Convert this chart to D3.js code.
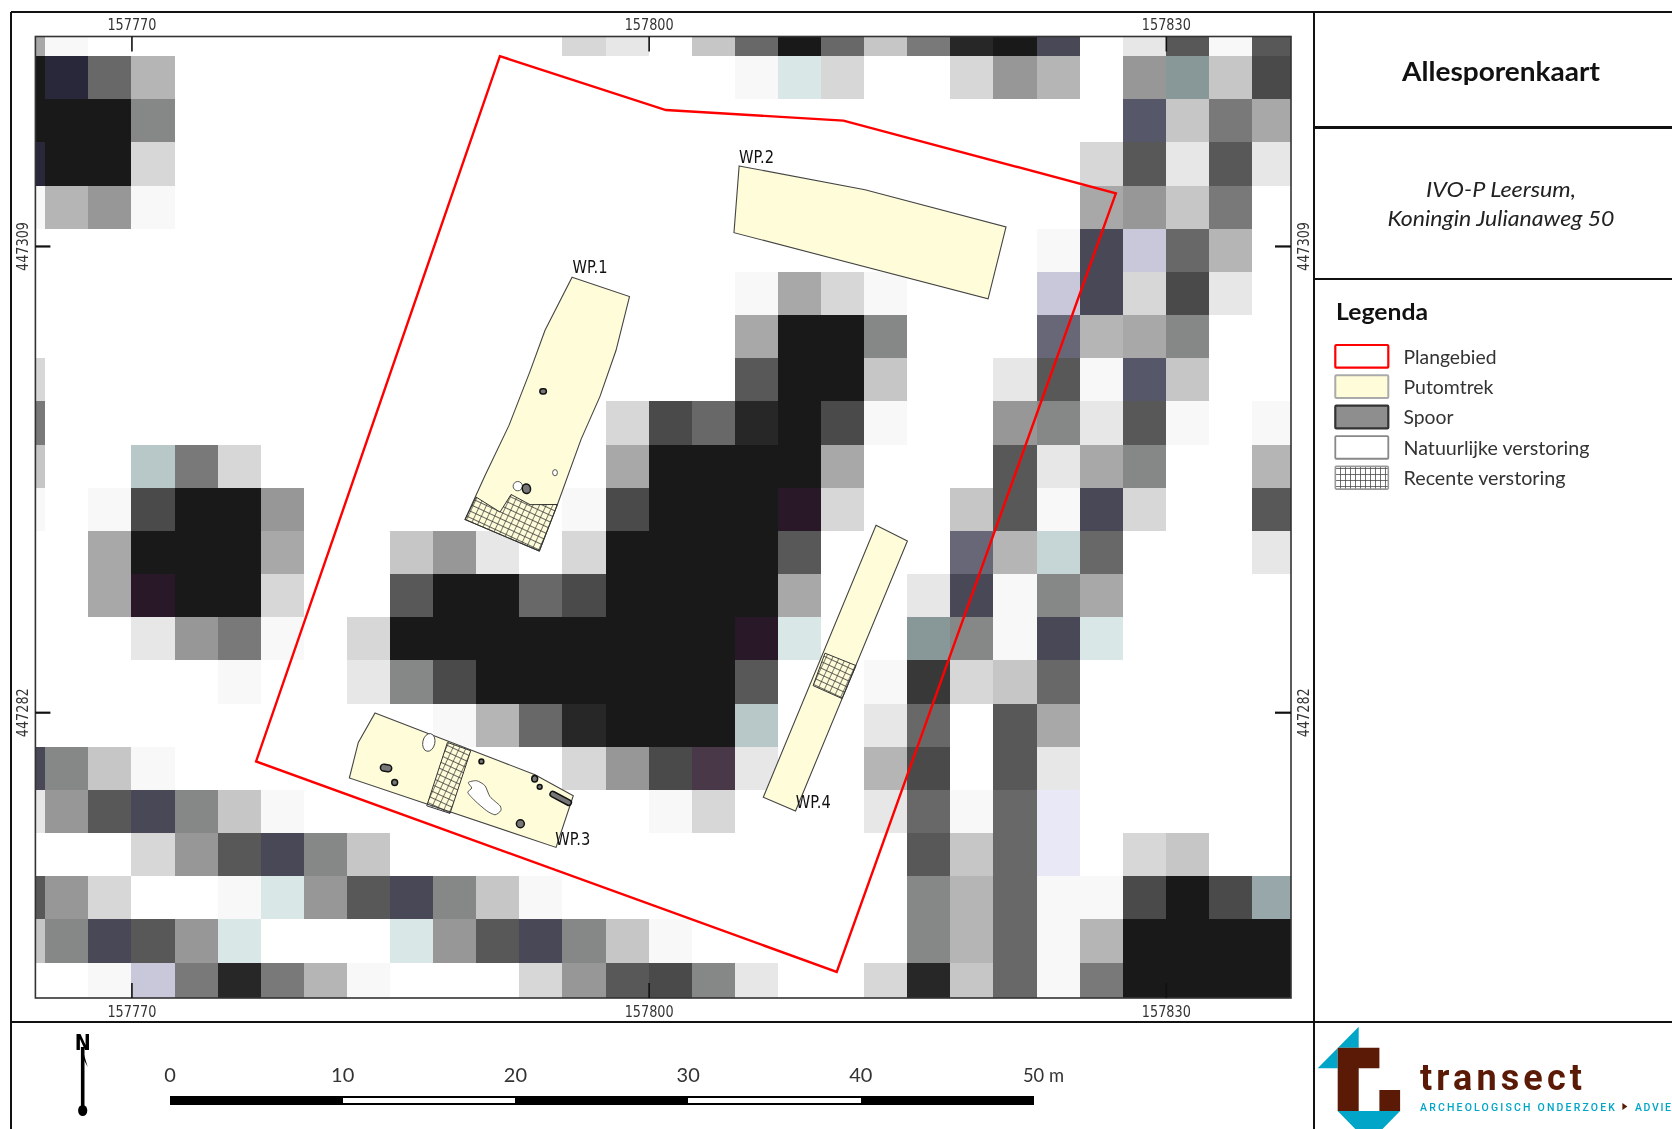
<!DOCTYPE html>
<html>
<head>
<meta charset="utf-8">
<title>Allesporenkaart</title>
<script src="https://cdnjs.cloudflare.com/ajax/libs/d3/7.8.5/d3.min.js"></script>
<style>
html,body{margin:0;padding:0;background:#fff;overflow:hidden}
svg{display:block;filter:blur(0.45px)}
</style>
</head>
<body>
<svg id="map" width="1672" height="1129"></svg>
<script>
// ---- data (RD map coordinates in metres) ----
const xTicks = [157770, 157800, 157830];
const yTicks = [447309, 447282];
const scaleLabels = [0, 10, 20, 30, 40];
const scaleSegments = [[0,10,1],[10,20,0],[20,30,1],[30,40,0],[40,50,1]];

// raster classes, one string per 2.5 m row, one character per 2.5 m column
const rasterClasses = ".abcdefghijklmnopqrstuvwxyzAB".split("");
const rasterColours = ["#ffffff","#f8f8f8","#e7e7e7","#d7d7d7","#c6c6c6","#b5b5b5","#a8a8a8","#979797","#868887","#787978","#686868","#585858","#4a4a4a","#383838","#272727","#191919","#d9e7e7","#b8c8c8","#889898","#c8c8da","#e8e8f6","#676778","#565768","#484857","#28283a","#281828","#483848","#98a8aa","#c6d6d6"];
const rasterRows = [
 "fa........" + "...cb.djoj" + "dinow.bkak",
 "oxje......" + ".......apc" + "..cge.grdl",
 "oooh......" + ".........." + "......vdif",
 "xooc......" + ".........." + ".....ckbkb",
 "aega......" + ".........." + ".....fgdi.",
 ".........." + ".........." + "....awsje.",
 ".........." + ".......afc" + "a...swclb.",
 ".........." + ".......foo" + "h...uefh..",
 "c........." + ".......koo" + "d..bkavd..",
 "i........." + "....cljnol" + "a..ghbka.a",
 "d..qic...." + "....foooof" + "...kbfh..e",
 "a.aloog..." + "...aloooyc" + "..dkawc..k",
 "..fooof..d" + "gb.cooook." + "..ueBj...b",
 "..fyooc..k" + "oojloooof." + ".bwahf....",
 "...bgia.co" + "oooooooyp." + ".rhawp....",
 ".....a..bh" + "looooook.." + "amcdj.....",
 ".........." + "aejnoooq.." + "bj.kf.....",
 "whda......" + "...cglzb.." + "el.kb.....",
 "bgkwhda..." + ".....ac..." + "bjajt.....",
 "...cgkwhd." + ".........." + ".kdjt.cd..",
 "kgc..apgkw" + "hda......." + ".hejaalolA",
 "dhwkgp...p" + "gkwhda...." + ".hejaeoooo",
 "..asiniea." + "..cgklhb.." + "cndjaioooo"
];
const rasterOriginX = 157762.5, rasterOriginY = 447322.5, rasterCell = 2.5;

const planArea = [[157791.37,447319.99],[157801.00,447316.87],[157811.30,447316.26],[157827.10,447312.05],[157810.91,447266.96],[157777.23,447279.15]];
const pitOutlines = [
 [[157805.25,447313.63],[157812.55,447312.26],[157820.73,447310.10],[157819.69,447305.94],[157804.95,447309.77]],
 [[157795.56,447307.19],[157798.89,447306.07],[157798.11,447302.96],[157797.18,447300.29],[157796.08,447297.80],[157794.71,447294.03],[157793.66,447291.33],[157789.35,447293.16],[157790.51,447295.71],[157791.90,447298.61],[157793.12,447301.74],[157793.99,447304.12]],
 [[157784.13,447281.96],[157793.41,447278.38],[157795.63,447277.16],[157794.63,447274.17],[157782.64,447278.19],[157783.16,447280.25]],
 [[157813.19,447292.82],[157815.01,447291.92],[157808.52,447276.28],[157806.65,447277.08]]
];
const recentDisturbance = [
 [[157789.99,447294.46],[157791.38,447293.59],[157792.02,447294.61],[157793.12,447294.02],[157794.71,447294.03],[157793.66,447291.33],[157789.35,447293.16]],
 [[157788.33,447280.25],[157789.68,447279.77],[157788.48,447276.14],[157787.13,447276.58]],
 [[157810.23,447285.42],[157812.03,447284.70],[157811.22,447282.79],[157809.54,447283.54]]
];
const naturalBlob = [[157789.54,447277.93],[157790.03,447278.03],[157790.51,447277.74],[157790.80,447277.11],[157791.38,447276.58],[157791.42,447276.29],[157791.09,447276.06],[157790.61,447276.29],[157789.93,447276.87],[157789.51,447277.35],[157789.74,447277.61]];
// x, y, radius x, radius y, rotation
const naturalEllipses = [
 [157792.41,447295.09,0.27,0.27,0],
 [157794.57,447295.87,0.14,0.18,0],
 [157787.25,447280.25,0.35,0.52,12]
];
const traceShapes = [
 [157793.88,447300.58,0.19,0.15,0],
 [157792.91,447294.94,0.24,0.28,-10],
 [157784.77,447278.77,0.33,0.20,10],
 [157785.27,447277.93,0.17,0.17,0],
 [157790.30,447279.15,0.14,0.14,0],
 [157793.39,447278.15,0.17,0.19,0],
 [157793.68,447277.68,0.14,0.14,0],
 [157792.56,447275.54,0.23,0.23,0],
 [157794.90,447277.01,0.68,0.16,28]
];
const pitLabels = [["WP.1",157796.6,447307.41],["WP.2",157806.26,447313.83],["WP.3",157795.6,447274.3],["WP.4",157809.55,447276.43]];
const legendItems = ["Plangebied","Putomtrek","Spoor","Natuurlijke verstoring","Recente verstoring"];
const legendWidths = [93,90,50,186,162];

// ---- drawing ----
const svg = d3.select("#map");
const x = d3.scaleLinear().domain([157764.43,157837.26]).range([35.4,1291]);
const y = d3.scaleLinear().domain([447321.13,447265.45]).range([36.5,998]);
const colour = d3.scaleOrdinal().domain(rasterClasses).range(rasterColours);
const FONT = "Lato, 'Open Sans', sans-serif";
const MAPFONT = "'DejaVu Sans', sans-serif";
const MAPW = 1255.6, MAPH = 961.5;

const defs = svg.append("defs");
defs.append("clipPath").attr("id","mapclip").append("rect")
  .attr("x",35.4).attr("y",36.5).attr("width",MAPW).attr("height",MAPH);
function hatch(id,w,h,rot,col,sw){
  const p = defs.append("pattern").attr("id",id).attr("patternUnits","userSpaceOnUse")
    .attr("width",w).attr("height",h).attr("patternTransform",`rotate(${rot})`);
  p.append("path").attr("d",`M0 0H${w}M0 0V${h}`).attr("stroke",col).attr("stroke-width",sw).attr("fill","none");
}
hatch("hatchMap",6,6,25,"#333",1.3);
hatch("hatchLegend",5,6,0,"#444",1.5);

const mapG = svg.append("g").attr("clip-path","url(#mapclip)");
mapG.append("rect").attr("x",35.4).attr("y",36.5).attr("width",MAPW).attr("height",MAPH).attr("fill","#fff");

// raster
const cells = [];
rasterRows.forEach((row,r)=>row.split("").forEach((k,c)=>{ if(k!==".") cells.push({r,c,k}); }));
mapG.append("g").attr("shape-rendering","crispEdges").selectAll("rect").data(cells).join("rect")
  .attr("x",d=>x(rasterOriginX+d.c*rasterCell))
  .attr("y",d=>y(rasterOriginY-d.r*rasterCell))
  .attr("width",d=>x(rasterOriginX+(d.c+1)*rasterCell)-x(rasterOriginX+d.c*rasterCell))
  .attr("height",d=>y(rasterOriginY-(d.r+1)*rasterCell)-y(rasterOriginY-d.r*rasterCell))
  .attr("fill",d=>colour(d.k));

const line = d3.line().x(d=>x(d[0])).y(d=>y(d[1])).curve(d3.curveLinearClosed);
const blobLine = d3.line().x(d=>x(d[0])).y(d=>y(d[1])).curve(d3.curveCardinalClosed.tension(0.3));

mapG.append("g").selectAll("path").data(pitOutlines).join("path")
  .attr("d",line).attr("fill","#fffcd9").attr("stroke","#444").attr("stroke-width",1.1);
mapG.append("g").selectAll("path").data(recentDisturbance).join("path")
  .attr("d",line).attr("fill","url(#hatchMap)").attr("stroke","#333").attr("stroke-width",1);
mapG.append("path").datum(naturalBlob).attr("d",blobLine).attr("fill","#fff").attr("stroke","#444").attr("stroke-width",0.9);

function drawEllipses(data,fill,stroke,sw){
  mapG.append("g").selectAll("ellipse").data(data).join("ellipse")
    .attr("cx",d=>x(d[0])).attr("cy",d=>y(d[1]))
    .attr("rx",d=>x(d[0]+d[2])-x(d[0])).attr("ry",d=>y(d[1]-d[3])-y(d[1]))
    .attr("transform",d=>`rotate(${d[4]},${x(d[0])},${y(d[1])})`)
    .attr("fill",fill).attr("stroke",stroke).attr("stroke-width",sw);
}
drawEllipses(naturalEllipses,"#fff","#444",0.9);
// traces are pills: round ends, straight sides
mapG.append("g").selectAll("rect").data(traceShapes).join("rect")
  .attr("x",d=>x(d[0]-d[2])).attr("y",d=>y(d[1]+d[3]))
  .attr("width",d=>x(d[0]+d[2])-x(d[0]-d[2])).attr("height",d=>y(d[1]-d[3])-y(d[1]+d[3]))
  .attr("rx",d=>y(d[1]-d[3])-y(d[1])).attr("ry",d=>y(d[1]-d[3])-y(d[1]))
  .attr("transform",d=>`rotate(${d[4]},${x(d[0])},${y(d[1])})`)
  .attr("fill","#777").attr("stroke","#111").attr("stroke-width",1.5);

mapG.append("path").datum(planArea).attr("d",line).attr("fill","none").attr("stroke","#f00").attr("stroke-width",2.4).attr("stroke-linejoin","miter");

svg.append("g").selectAll("text").data(pitLabels).join("text")
  .attr("x",d=>x(d[1])).attr("y",d=>y(d[2])).text(d=>d[0])
  .attr("text-anchor","middle").attr("font-family",MAPFONT).attr("font-size",18)
  .attr("textLength",35).attr("lengthAdjust","spacingAndGlyphs").attr("fill","#111");

// map border
svg.append("rect").attr("x",35.4).attr("y",36.5).attr("width",MAPW).attr("height",MAPH)
  .attr("fill","none").attr("stroke","#333").attr("stroke-width",1.6);

// axes
function styleAxis(g,w){
  g.select(".domain").remove();
  g.selectAll("line").attr("stroke","#111").attr("stroke-width",w);
  g.selectAll("text").attr("font-family",MAPFONT).attr("font-size",16).attr("fill","#333")
    .attr("textLength",49).attr("lengthAdjust","spacingAndGlyphs").attr("text-anchor","middle").attr("dy","0.36em");
}
const fmt = d3.format("d");
const gTop = svg.append("g").attr("transform","translate(0,36.5)")
  .call(d3.axisTop(x).tickValues(xTicks).tickFormat(fmt).tickSizeInner(-15).tickSizeOuter(0));
styleAxis(gTop,1.6); gTop.selectAll("text").attr("y",-12.5);
const gBot = svg.append("g").attr("transform","translate(0,998)")
  .call(d3.axisBottom(x).tickValues(xTicks).tickFormat(fmt).tickSizeInner(-15).tickSizeOuter(0));
styleAxis(gBot,1.6); gBot.selectAll("text").attr("y",13);
const gLeft = svg.append("g").attr("transform","translate(35.4,0)")
  .call(d3.axisLeft(y).tickValues(yTicks).tickFormat(fmt).tickSizeInner(-15).tickSizeOuter(0));
styleAxis(gLeft,2.2); gLeft.selectAll("text").attr("x",0).attr("y",0).attr("transform","translate(-13,0) rotate(-90)");
const gRight = svg.append("g").attr("transform","translate(1291,0)")
  .call(d3.axisRight(y).tickValues(yTicks).tickFormat(fmt).tickSizeInner(-16).tickSizeOuter(0));
styleAxis(gRight,2.2); gRight.selectAll("text").attr("x",0).attr("y",0).attr("transform","translate(12,0) rotate(-90)");

// layout frame
const frame = svg.append("g").attr("stroke","#111").attr("stroke-width",2.4).attr("shape-rendering","crispEdges");
[[10.7,11.8,1672,11.8],[10.7,11.8,10.7,1129],[1314,11.8,1314,1129],[10.7,1022,1672,1022],[1314,127.4,1672,127.4],[1314,279,1672,279]]
  .forEach(l=>frame.append("line").attr("x1",l[0]).attr("y1",l[1]).attr("x2",l[2]).attr("y2",l[3]));

// title panel
function txt(t,xp,yp,size,opts={}){
  const s = svg.append("text").attr("x",xp).attr("y",yp).text(t).attr("font-family",opts.font||FONT)
    .attr("font-size",size).attr("fill",opts.fill||"#111").attr("text-anchor",opts.anchor||"start");
  if(opts.weight) s.attr("font-weight",opts.weight);
  if(opts.italic) s.attr("font-style","italic");
  if(opts.len) s.attr("textLength",opts.len).attr("lengthAdjust",opts.adjust||"spacingAndGlyphs");
  return s;
}
txt("Allesporenkaart",1501,80.5,26,{anchor:"middle",weight:700,len:198});
txt("IVO-P Leersum,",1501,196.5,22,{anchor:"middle",italic:true,len:150,fill:"#222"});
txt("Koningin Julianaweg 50",1501,225.5,22,{anchor:"middle",italic:true,len:227,fill:"#222"});
txt("Legenda",1336,319.5,23,{weight:700,len:92});

// legend
const legStyles = [["#fff","#f00",2.2],["#fffcd9","#aaa",2],["#8e8e8e","#333",2.2],["#fff","#888",1.8],["url(#hatchLegend)","#999",1.6]];
const legG = svg.append("g");
legendItems.forEach((name,i)=>{
  const yy = 345 + i*30.35;
  const st = legStyles[i];
  if(i===4) legG.append("rect").attr("x",1335.3).attr("y",yy).attr("width",53).attr("height",22.7).attr("fill","#fff");
  legG.append("rect").attr("x",1335.3).attr("y",yy).attr("width",53).attr("height",22.7).attr("rx",1)
    .attr("fill",st[0]).attr("stroke",st[1]).attr("stroke-width",st[2]);
  txt(name,1403.5,yy+18.6,18.5,{len:legendWidths[i],fill:"#333"});
});

// north arrow
const na = svg.append("g");
txt("N",82.7,1050,21,{anchor:"middle",weight:900,font:"'DejaVu Sans', sans-serif",fill:"#000",len:16});
na.append("line").attr("x1",82.7).attr("x2",82.7).attr("y1",1047).attr("y2",1111).attr("stroke","#000").attr("stroke-width",3.6);
na.append("path").attr("d",d3.line()([[81.7,1047],[87.7,1067],[84,1060]])).attr("fill","#000");
na.append("ellipse").attr("cx",82.7).attr("cy",1110.5).attr("rx",4.6).attr("ry",5.6).attr("fill","#000");

// scale bar
const sb = d3.scaleLinear().domain([0,50]).range([170,1033.6]);
const sbG = svg.append("g").attr("shape-rendering","crispEdges");
sbG.append("rect").attr("x",sb(0)).attr("y",1095.6).attr("width",sb(50)-sb(0)).attr("height",9.4).attr("fill","#000");
sbG.selectAll(".w").data(scaleSegments.filter(d=>!d[2])).join("rect")
  .attr("x",d=>sb(d[0])).attr("y",1098).attr("width",d=>sb(d[1])-sb(d[0])).attr("height",5.4).attr("fill","#fff");
scaleLabels.forEach(v=>txt(String(v),sb(v),1082,20,{anchor:"middle",fill:"#333"}));
txt("50 m",1023,1082,20,{len:41,fill:"#333"});

// logo
const logoCyan = "#00a5c8", logoBrown = "#5a1a05";
const logo = svg.append("g").attr("transform","translate(-0.6,1)");
const closed = d3.line().curve(d3.curveLinearClosed);
logo.append("path").attr("d",closed([[1359.3,1025.7],[1318.3,1067.3],[1338.3,1067.3],[1338.3,1046.7],[1359.3,1046.7]])).attr("fill",logoCyan);
logo.append("path").attr("d",closed([[1338.3,1110],[1400.7,1110],[1369.5,1142]])).attr("fill",logoCyan);
logo.append("path").attr("d",closed([[1338.3,1046.7],[1380,1046.7],[1380,1067.3],[1359.3,1067.3],[1359.3,1110],[1338.3,1110]])).attr("fill",logoBrown);
logo.append("rect").attr("x",1380).attr("y",1089).attr("width",20.7).attr("height",21).attr("fill",logoBrown);
txt("transect",1420,1090,36,{font:"Roboto, sans-serif",weight:700,fill:logoBrown,len:162,adjust:"spacing"});
txt("ARCHEOLOGISCH ONDERZOEK",1420,1111,10.5,{font:"Roboto, sans-serif",weight:500,fill:logoCyan,len:195,adjust:"spacing"});
logo.append("path").attr("d",closed([[1623,1102],[1628,1105.5],[1623,1109]])).attr("fill",logoBrown);
txt("ADVIE",1635,1111,10.5,{font:"Roboto, sans-serif",weight:500,fill:logoCyan,len:36,adjust:"spacing"});
</script>
</body>
</html>
